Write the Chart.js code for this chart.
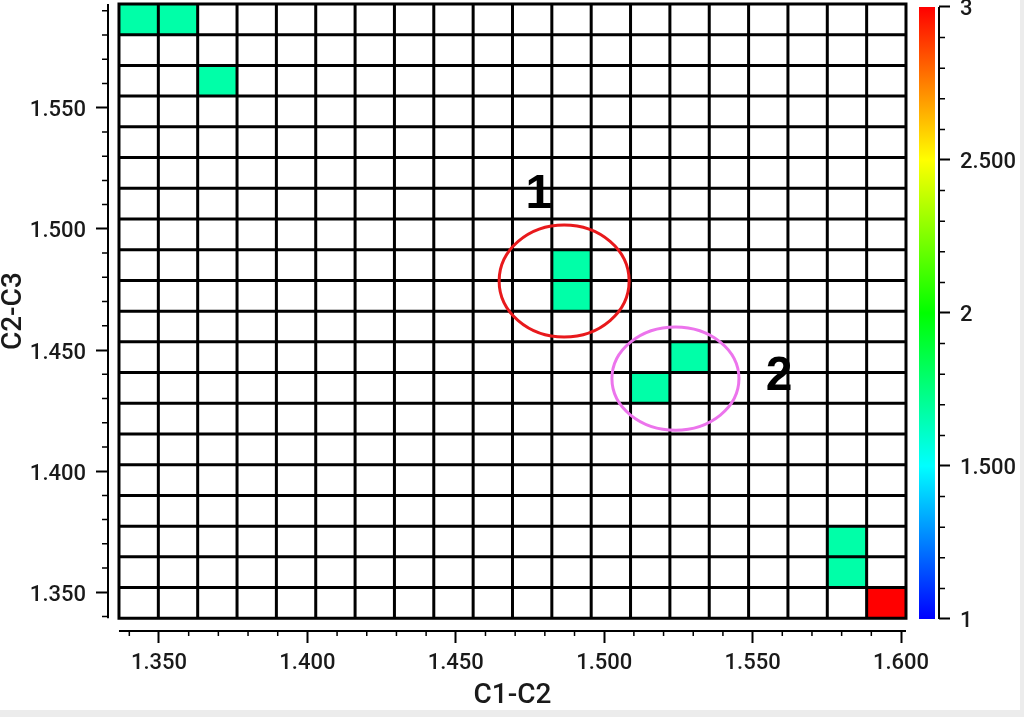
<!DOCTYPE html>
<html>
<head>
<meta charset="utf-8">
<script src="https://cdn.jsdelivr.net/npm/chart.js@4.4.1/dist/chart.umd.min.js"></script>
<style>
  html, body { margin: 0; padding: 0; background: #ececec; }
  #wrap { width: 1020px; height: 710px; background: #fff; }
  canvas { display: block; }
</style>
</head>
<body>
<div id="wrap"><canvas id="chart" width="1020" height="710"></canvas></div>
<script>
// 20 x 20 bins: C1-C2 across, C2-C3 up
const xBinStart = 1.33652;
const xBinWidth = 0.013258;
const yBinStart = 1.33927;
const yBinWidth = 0.012677;
const nCols = 20;
const nRows = 20;

// filled cells: column, row (counted from the bottom), value
const cellCols = [0, 1, 2, 11, 11, 13, 14, 18, 18, 19];
const cellRows = [19, 19, 17, 11, 10, 7, 8, 2, 1, 0];
const cellValues = [1.67, 1.67, 1.67, 1.67, 1.67, 1.67, 1.67, 1.67, 1.67, 3];

const xTicks = [1.35, 1.40, 1.45, 1.50, 1.55, 1.60];
const yTicks = [1.35, 1.40, 1.45, 1.50, 1.55];
const colorTicks = [1, 1.5, 2, 2.5, 3];

// colour map
const colorStops = [1, 1.5, 2, 2.5, 3];
const colorRGB = [[0, 0, 255], [0, 255, 255], [0, 255, 0], [255, 255, 0], [255, 0, 0]];

// circled groups and their numbers
const ringLabels = ["1", "2"];
const ringX = [1.4865, 1.5240];
const ringY = [1.4785, 1.4382];
const ringRX = [0.0219, 0.0214];
const ringRY = [0.0231, 0.0213];
const ringColors = ["#e8191c", "#ec74ec"];
const labelX = [1.4780, 1.5589];
const labelY = [1.5086, 1.4335];

const FONT = "'Liberation Sans', Arial, sans-serif";
const TICK_FONT = "Roboto, 'Liberation Sans', Arial, sans-serif";

function colorFor(v) {
    for (let i = 0; i < colorStops.length - 1; i++) {
        if (v <= colorStops[i + 1]) {
            const t = (v - colorStops[i]) / (colorStops[i + 1] - colorStops[i]);
            const a = colorRGB[i], b = colorRGB[i + 1];
            const c = a.map((ch, k) => Math.round(ch + (b[k] - ch) * t));
            return `rgb(${c[0]},${c[1]},${c[2]})`;
        }
    }
    const l = colorRGB[colorRGB.length - 1];
    return `rgb(${l[0]},${l[1]},${l[2]})`;
}

function fixBox(size) {
    return function (s) {
        if (s.isHorizontal()) s.height = size; else s.width = size;
        s.paddingTop = 0; s.paddingBottom = 0; s.paddingLeft = 0; s.paddingRight = 0;
    };
}

const fmt3 = v => Number(v).toFixed(3);

// draws grid, cells, rings, minor ticks, axis lines, colour bar and titles
const heatmapPlugin = {
    id: "heatmap",
    afterDraw(chart) {
        const ctx = chart.ctx;
        const xs = chart.scales.x, ys = chart.scales.y, cs = chart.scales.c;
        const area = chart.chartArea;
        const px = k => xs.getPixelForValue(xBinStart + k * xBinWidth);
        const py = k => ys.getPixelForValue(yBinStart + k * yBinWidth);

        ctx.save();

        // cells
        for (let i = 0; i < cellValues.length; i++) {
            const x0 = px(cellCols[i]), x1 = px(cellCols[i] + 1);
            const y0 = py(cellRows[i] + 1), y1 = py(cellRows[i]);
            ctx.fillStyle = colorFor(cellValues[i]);
            ctx.fillRect(x0, y0, x1 - x0, y1 - y0);
        }

        // grid lines
        ctx.strokeStyle = "#000";
        ctx.lineWidth = 3;
        ctx.lineCap = "square";
        ctx.beginPath();
        for (let k = 0; k <= nCols; k++) {
            ctx.moveTo(px(k), py(0));
            ctx.lineTo(px(k), py(nRows));
        }
        for (let k = 0; k <= nRows; k++) {
            ctx.moveTo(px(0), py(k));
            ctx.lineTo(px(nCols), py(k));
        }
        ctx.stroke();

        // rings
        ctx.lineWidth = 3;
        for (let i = 0; i < ringLabels.length; i++) {
            const cx = xs.getPixelForValue(ringX[i]);
            const cy = ys.getPixelForValue(ringY[i]);
            const rx = Math.abs(xs.getPixelForValue(ringX[i] + ringRX[i]) - cx);
            const ry = Math.abs(ys.getPixelForValue(ringY[i] + ringRY[i]) - cy);
            ctx.strokeStyle = ringColors[i];
            ctx.beginPath();
            ctx.ellipse(cx, cy, rx, ry, 0, 0, Math.PI * 2);
            ctx.stroke();
        }
        ctx.fillStyle = "#000";
        ctx.font = "bold 48px " + FONT;
        ctx.textAlign = "center";
        ctx.textBaseline = "alphabetic";
        for (let i = 0; i < ringLabels.length; i++) {
            ctx.fillText(ringLabels[i], xs.getPixelForValue(labelX[i]), ys.getPixelForValue(labelY[i]));
        }

        // axis lines
        ctx.strokeStyle = "#000";
        ctx.lineWidth = 2;
        ctx.lineCap = "butt";
        ctx.beginPath();
        ctx.moveTo(area.left, py(nRows));
        ctx.lineTo(area.left, py(0));
        ctx.moveTo(px(0), area.bottom);
        ctx.lineTo(px(nCols), area.bottom);
        ctx.moveTo(area.right, cs.getPixelForValue(3));
        ctx.lineTo(area.right, cs.getPixelForValue(1));
        ctx.stroke();

        // minor ticks
        ctx.lineWidth = 1.5;
        ctx.beginPath();
        for (let i = 134; i <= 160; i++) {
            if (i % 5 === 0) continue;
            const x = xs.getPixelForValue(i / 100);
            ctx.moveTo(x, area.bottom);
            ctx.lineTo(x, area.bottom + 5);
        }
        for (let i = 134; i <= 159; i++) {
            if (i % 5 === 0) continue;
            const y = ys.getPixelForValue(i / 100);
            ctx.moveTo(area.left, y);
            ctx.lineTo(area.left - 6, y);
        }
        for (let i = 10; i <= 30; i++) {
            if (i % 5 === 0) continue;
            const y = cs.getPixelForValue(i / 10);
            ctx.moveTo(area.right, y);
            ctx.lineTo(area.right + 6, y);
        }
        ctx.stroke();

        // colour bar
        const top = cs.getPixelForValue(3), bot = cs.getPixelForValue(1);
        const grad = ctx.createLinearGradient(0, bot, 0, top);
        colorStops.forEach((v, i) => {
            grad.addColorStop((v - 1) / 2, `rgb(${colorRGB[i].join(",")})`);
        });
        ctx.fillStyle = grad;
        ctx.fillRect(area.right - 20, top, 16, bot - top);

        // axis titles
        ctx.fillStyle = "#1a1a1a";
        ctx.font = "500 28px " + TICK_FONT;
        ctx.textAlign = "center";
        ctx.textBaseline = "alphabetic";
        ctx.fillText("C1-C2", (px(0) + px(nCols)) / 2, 703);
        ctx.save();
        ctx.translate(21, (py(0) + py(nRows)) / 2);
        ctx.rotate(-Math.PI / 2);
        ctx.fillText("C2-C3", 0, 0);
        ctx.restore();

        ctx.restore();
    }
};

const tickFont = { family: TICK_FONT, size: 22, weight: "500" };

new Chart(document.getElementById("chart"), {
    type: "scatter",
    data: { datasets: [] },
    options: {
        responsive: false,
        animation: false,
        layout: { padding: { top: 3, left: 0, right: 0, bottom: 0 } },
        plugins: { legend: { display: false }, tooltip: { enabled: false } },
        scales: {
            x: {
                type: "linear",
                min: 1.33282,
                max: 1.61280,
                afterBuildTicks: s => { s.ticks = xTicks.map(v => ({ value: v })); },
                afterFit: fixBox(79),
                border: { display: false },
                grid: { drawOnChartArea: false, drawTicks: true, tickLength: 12, color: "#000", tickWidth: 2 },
                ticks: { padding: 7, color: "#1a1a1a", font: tickFont, maxRotation: 0, autoSkip: false, callback: v => fmt3(v) }
            },
            y: {
                type: "linear",
                min: 1.33403,
                max: 1.59321,
                afterBuildTicks: s => { s.ticks = yTicks.map(v => ({ value: v })); },
                afterFit: fixBox(108),
                border: { display: false },
                grid: { drawOnChartArea: false, drawTicks: true, tickLength: 12, color: "#000", tickWidth: 2 },
                ticks: { padding: 10, labelOffset: 3, color: "#1a1a1a", font: tickFont, autoSkip: false, callback: v => fmt3(v) }
            },
            c: {
                type: "linear",
                position: "right",
                min: 0.96078,
                max: 3.01307,
                afterBuildTicks: s => { s.ticks = colorTicks.map(v => ({ value: v })); },
                afterFit: fixBox(81),
                border: { display: false },
                grid: { drawOnChartArea: false, drawTicks: true, tickLength: 11, color: "#000", tickWidth: 2 },
                ticks: { padding: 10, labelOffset: 3, color: "#1a1a1a", font: tickFont, autoSkip: false,
                    callback: v => (Number.isInteger(v) ? String(v) : fmt3(v)) }
            }
        }
    },
    plugins: [heatmapPlugin]
});
</script>
</body>
</html>
